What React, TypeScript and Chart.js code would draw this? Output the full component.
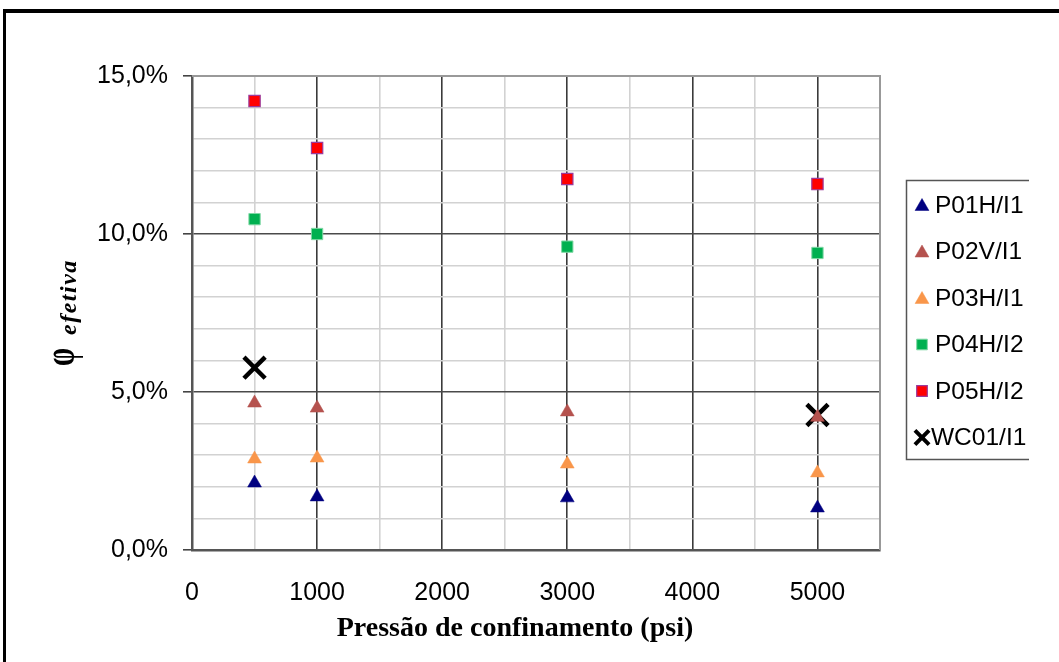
import React, { useEffect, useRef } from "react";
import { Chart, registerables } from "chart.js";
import { drawPoint } from "chart.js/helpers";

Chart.register(...registerables);

// ---- data ----
const pressures = [500, 1000, 3000, 5000];
const p01 = [2.12, 1.68, 1.65, 1.33];
const p02 = [4.65, 4.49, 4.37, 4.2];
const p03 = [2.88, 2.91, 2.72, 2.44];
const p04 = [10.47, 10.0, 9.6, 9.4];
const p05 = [14.21, 12.72, 11.74, 11.58];
const wcPressures = [500, 5000];
const wc01 = [5.77, 4.27];
const seriesNames = ["P01H/I1", "P02V/I1", "P03H/I1", "P04H/I2", "P05H/I2", "WC01/I1"];
const xTitle = "Pressão de confinamento (psi)";
const yTitleMain = "φ";
const yTitleSub = "efetiva";

const SANS = "'Liberation Sans', Arial, sans-serif";
const SERIF = "'Liberation Serif', 'Times New Roman', serif";

const pts = (xs: number[], ys: number[]) => xs.map((x, i) => ({ x, y: ys[i] }));

type Style = { pointStyle: string; bg: string; border: string; r: number; bw: number; lr: number; lbw: number };
const styles: Style[] = [
  { pointStyle: "triangle", bg: "#000080", border: "#000080", r: 8, bw: 0.5, lr: 8, lbw: 0.5 },
  { pointStyle: "triangle", bg: "#b5524e", border: "#b5524e", r: 8, bw: 0.5, lr: 8, lbw: 0.5 },
  { pointStyle: "triangle", bg: "#f9964a", border: "#f9964a", r: 8, bw: 0.5, lr: 8, lbw: 0.5 },
  { pointStyle: "rect", bg: "#00b050", border: "#7fd8a4", r: 8, bw: 1, lr: 7.5, lbw: 1 },
  { pointStyle: "rect", bg: "#ff0000", border: "#9b3a9b", r: 8, bw: 1.2, lr: 7.5, lbw: 1.2 },
  { pointStyle: "crossRot", bg: "#000000", border: "#000000", r: 15, bw: 4.5, lr: 10, lbw: 4 },
];

const decor = {
  id: "decor",
  beforeDraw(chart: any) {
    const { ctx, width, height } = chart;
    ctx.save();
    ctx.fillStyle = "#ffffff";
    ctx.fillRect(0, 0, width, height);
    ctx.restore();
  },
  beforeDatasetsDraw(chart: any) {
    const { ctx, chartArea: a } = chart;
    ctx.save();
    ctx.strokeStyle = "#999999";
    ctx.lineWidth = 2;
    ctx.beginPath();
    ctx.moveTo(a.left, a.top);
    ctx.lineTo(a.right, a.top);
    ctx.lineTo(a.right, a.bottom);
    ctx.stroke();
    ctx.restore();
  },
  afterDraw(chart: any) {
    const { ctx, width, height } = chart;
    ctx.save();
    // outer frame
    ctx.fillStyle = "#000";
    ctx.fillRect(3, 9, width, 4);
    ctx.fillRect(3, 9, 3, height);

    // legend box (left, top, bottom sides)
    ctx.strokeStyle = "#555";
    ctx.lineWidth = 1.5;
    ctx.beginPath();
    ctx.moveTo(1029, 180.5);
    ctx.lineTo(906.5, 180.5);
    ctx.lineTo(906.5, 459.5);
    ctx.lineTo(1029, 459.5);
    ctx.stroke();

    ctx.font = `24.5px ${SANS}`;
    ctx.textBaseline = "middle";
    ctx.textAlign = "left";
    chart.data.datasets.forEach((ds: any, i: number) => {
      const s = styles[i];
      const y = 205 + i * 46.5;
      ctx.fillStyle = s.bg;
      ctx.strokeStyle = s.border;
      ctx.lineWidth = s.lbw;
      drawPoint(ctx, { pointStyle: s.pointStyle as any, rotation: 0, radius: s.lr, borderWidth: s.lbw }, 922, s.pointStyle === "triangle" ? y + 1.5 : y);
      ctx.fillStyle = "#000";
      ctx.fillText(ds.label, i === 5 ? 931 : 935, y + 1);
    });

    // x title
    ctx.fillStyle = "#000";
    ctx.font = `bold 28px ${SERIF}`;
    ctx.textAlign = "center";
    ctx.textBaseline = "middle";
    ctx.fillText(xTitle, 515, 629);

    // y title (rotated)
    ctx.translate(74, 366);
    ctx.rotate(-Math.PI / 2);
    ctx.textAlign = "left";
    ctx.textBaseline = "alphabetic";
    ctx.save();
    ctx.scale(1, 1.55);
    ctx.font = `bold 29px ${SERIF}`;
    ctx.fillText(yTitleMain, 0, 0);
    ctx.restore();
    ctx.font = `italic bold 24px ${SERIF}`;
    (ctx as any).letterSpacing = "1.5px";
    ctx.fillText(yTitleSub, 31, 2);
    ctx.restore();
  },
};

export default function App() {
  const ref = useRef<HTMLCanvasElement>(null);
  useEffect(() => {
    if (!ref.current) return;
    const seriesData = [
      pts(pressures, p01),
      pts(pressures, p02),
      pts(pressures, p03),
      pts(pressures, p04),
      pts(pressures, p05),
      pts(wcPressures, wc01),
    ];
    const chart = new Chart(ref.current, {
      type: "scatter",
      data: {
        datasets: seriesData.map((d, i) => ({
          label: seriesNames[i],
          data: d,
          pointStyle: styles[i].pointStyle as any,
          pointRadius: styles[i].r,
          pointHoverRadius: styles[i].r,
          pointBackgroundColor: styles[i].bg,
          pointBorderColor: styles[i].border,
          pointBorderWidth: styles[i].bw,
          showLine: false,
        })),
      },
      options: {
        responsive: false,
        animation: false,
        devicePixelRatio: 1,
        layout: { padding: { left: 0, top: 76, right: 1059 - 880, bottom: 0 } },
        plugins: { legend: { display: false }, tooltip: { enabled: false } },
        scales: {
          x: {
            type: "linear",
            min: 0,
            max: 5500,
            afterFit: (s: any) => {
              s.height = 662 - 550;
            },
            ticks: {
              stepSize: 500,
              autoSkip: false,
              maxRotation: 0,
              padding: 28,
              color: "#000",
              font: { family: SANS, size: 25 },
              callback: (v: any) => (Number(v) % 1000 === 0 ? String(v) : ""),
            },
            grid: {
              drawTicks: false,
              color: (c: any) => (c.tick && c.tick.value % 1000 === 0 ? "#3a3a3a" : "#d2d2d2"),
              lineWidth: 1.6,
            },
            border: { display: true, color: "#555", width: 2.5 },
          },
          y: {
            type: "linear",
            min: 0,
            max: 15,
            afterFit: (s: any) => {
              s.width = 192;
            },
            ticks: {
              stepSize: 1,
              autoSkip: false,
              padding: 15,
              color: "#000",
              font: { family: SANS, size: 25 },
              callback: (v: any) =>
                Number(v) % 5 === 0 ? Number(v).toFixed(1).replace(".", ",") + "%" : "",
            },
            grid: {
              drawTicks: true,
              tickLength: 9,
              tickColor: (c: any) => (c.tick && c.tick.value % 5 === 0 ? "#444" : "rgba(0,0,0,0)"),
              color: (c: any) => {
                const v = c.tick ? c.tick.value : 0;
                if (v === 15) return "#aaaaaa";
                return v % 5 === 0 ? "#4a4a4a" : "#d2d2d2";
              },
              lineWidth: 1.6,
            },
            border: { display: true, color: "#555", width: 2.5 },
          },
        },
      },
      plugins: [decor],
    });
    return () => chart.destroy();
  }, []);
  return (
    <div style={{ position: "fixed", left: 0, top: 0, width: 1059, height: 662, overflow: "hidden", background: "#fff" }}>
      <canvas ref={ref} width={1059} height={662} style={{ display: "block", width: 1059, height: 662 }} />
    </div>
  );
}
